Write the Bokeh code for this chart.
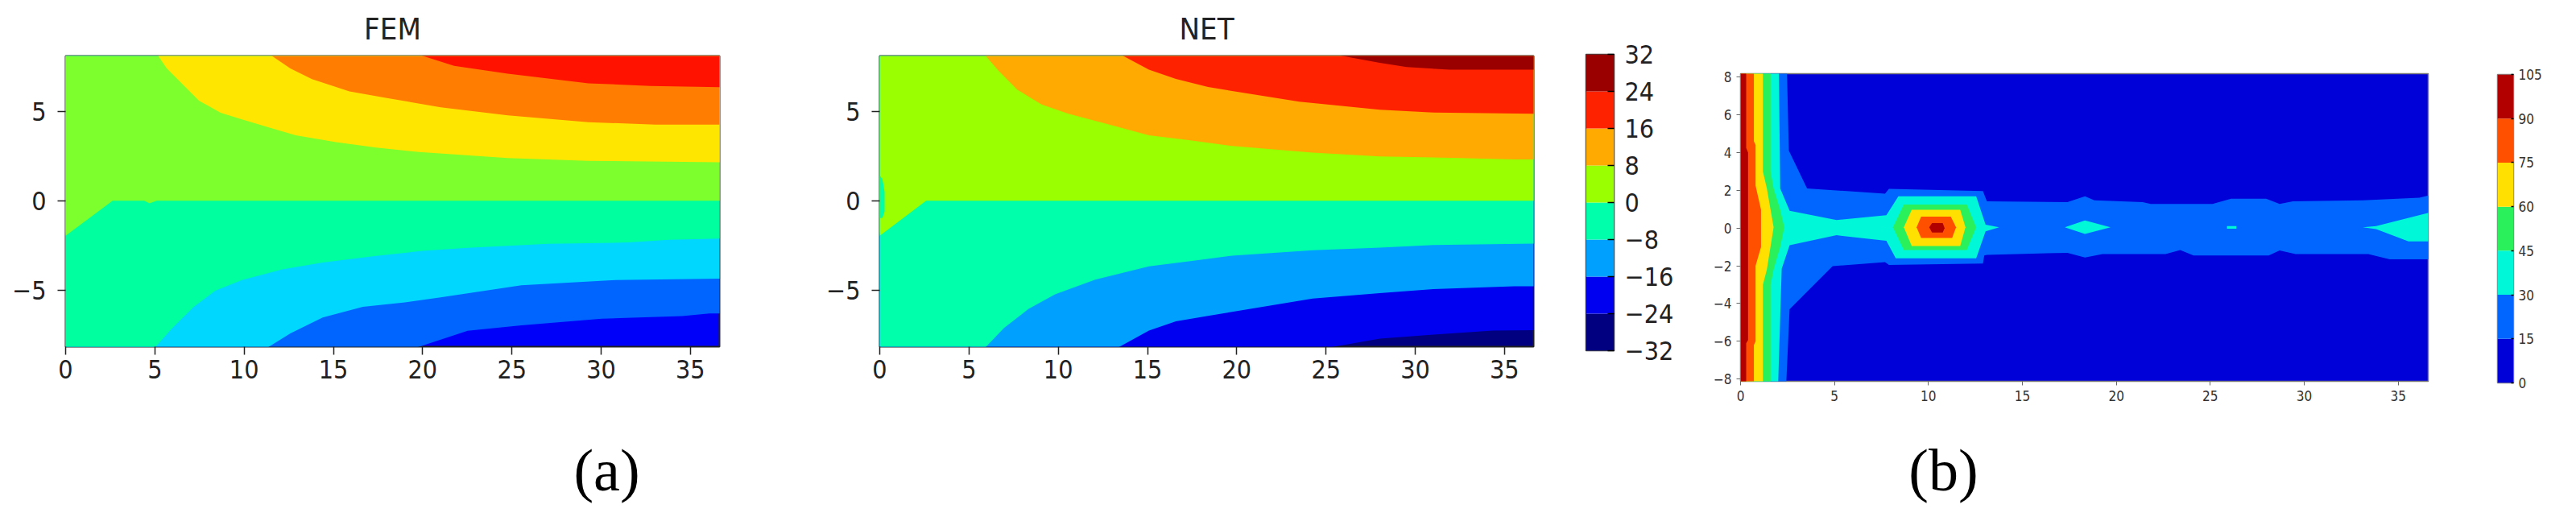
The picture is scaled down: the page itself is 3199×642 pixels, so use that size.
from bokeh.plotting import figure
from bokeh.layouts import row, column
from bokeh.models import ColumnDataSource, FixedTicker, Range1d, Title, Label
from bokeh.embed import file_html
from bokeh.resources import INLINE

# ---------------- data ----------------
# panel (a): contour lines (x, y) separating the filled bands, lowest level first
X_MIN, X_MAX = 0.0, 36.63
Y_BOT, Y_TOP = -8.15, 8.085
A_XTICKS = [0, 5, 10, 15, 20, 25, 30, 35]
A_YTICKS = [-5, 0, 5]

FEM_COLORS = ["#0000FA", "#0064FF", "#00D7FF", "#00FF9E", "#7DFF2D", "#FFE600", "#FF7D00", "#FF1200"]
FEM_CM24_X = [19.66, 22.52, 25.53, 30.04, 34.55, 36.06, 36.7]
FEM_CM24_Y = [-8.2, -7.26, -6.96, -6.59, -6.44, -6.29, -6.29]
FEM_CM16_X = [11.31, 12.59, 14.4, 16.65, 19.0, 21.01, 25.53, 30.79, 36.7]
FEM_CM16_Y = [-8.2, -7.41, -6.52, -5.92, -5.68, -5.39, -4.72, -4.43, -4.35]
FEM_CM8_X = [5.0, 5.97, 7.18, 8.38, 9.88, 12.14, 14.4, 17.4, 20.0, 22.52, 27.03, 31.54, 33.8, 36.7]
FEM_CM8_Y = [-8.2, -7.12, -5.92, -5.02, -4.43, -3.83, -3.45, -3.08, -2.8, -2.63, -2.41, -2.33, -2.18, -2.11]
FEM_C0_X = [0.0, 2.63, 4.4, 4.7, 5.1, 36.7]
FEM_C0_Y = [-1.96, 0.0, 0.0, -0.14, 0.0, 0.0]
FEM_C8_X = [5.11, 5.67, 6.57, 7.47, 8.68, 9.88, 11.39, 12.89, 15.15, 17.4, 19.81, 24.77, 29.29, 36.7]
FEM_C8_Y = [8.2, 7.39, 6.49, 5.59, 4.92, 4.54, 4.09, 3.65, 3.27, 2.97, 2.72, 2.38, 2.23, 2.15]
FEM_C16_X = [11.39, 12.59, 13.8, 15.9, 18.0, 21.01, 24.77, 29.29, 33.05, 36.7]
FEM_C16_Y = [8.2, 7.39, 6.79, 6.11, 5.74, 5.22, 4.77, 4.39, 4.25, 4.25]
FEM_C24_X = [19.66, 21.76, 24.77, 29.29, 32.75, 36.7]
FEM_C24_Y = [8.2, 7.53, 7.09, 6.56, 6.41, 6.34]

NET_COLORS = ["#000080", "#0000F0", "#00A0FF", "#00FFAA", "#9AFF00", "#FFAA00", "#FF2200", "#9B0000"]
NET_LEVELS = [-32, -24, -16, -8, 0, 8, 16, 24, 32]
NET_CM24_X = [25.16, 28.01, 31.02, 34.33, 36.7]
NET_CM24_Y = [-8.2, -7.7, -7.48, -7.25, -7.23]
NET_CM16_X = [13.35, 15.08, 16.59, 18.39, 19.74, 24.25, 28.01, 31.02, 35.53, 36.7]
NET_CM16_Y = [-8.2, -7.25, -6.73, -6.43, -6.21, -5.46, -5.16, -4.93, -4.78, -4.78]
NET_CM8_X = [5.91, 6.96, 8.32, 9.82, 12.07, 15.08, 17.49, 19.74, 24.25, 28.01, 31.02, 36.7]
NET_CM8_Y = [-8.2, -7.1, -6.05, -5.23, -4.41, -3.66, -3.36, -3.07, -2.77, -2.62, -2.47, -2.39]
NET_C0_X = [0.0, 2.6, 36.7]
NET_C0_Y = [-1.95, 0.0, 0.0]
NET_C8_X = [5.84, 6.66, 7.71, 9.07, 10.57, 12.83, 15.08, 17.49, 19.74, 24.25, 28.01, 32.52, 35.53, 36.7]
NET_C8_Y = [8.2, 7.25, 6.2, 5.38, 4.86, 4.26, 3.66, 3.36, 3.06, 2.69, 2.47, 2.39, 2.31, 2.31]
NET_C16_X = [13.43, 15.08, 16.59, 18.39, 19.74, 23.5, 28.01, 31.02, 36.7]
NET_C16_Y = [8.2, 7.32, 6.8, 6.35, 6.13, 5.53, 5.08, 4.93, 4.86]
NET_C24_X = [25.3, 28.01, 29.52, 31.92, 36.7]
NET_C24_Y = [8.2, 7.7, 7.47, 7.32, 7.32]
NET_POCKET_X = [0.0, 0.15, 0.27, 0.27, 0.15, 0.0]
NET_POCKET_Y = [1.42, 1.2, 0.5, -0.6, -0.97, -0.97]

# panel (b): regions at or above each level (polygons), levels 0..105 step 15
B_XMIN, B_XMAX = 0.0, 36.6
B_YBOT, B_YTOP = -8.12, 8.18
B_XTICKS = [0, 5, 10, 15, 20, 25, 30, 35]
B_YTICKS = [-8, -6, -4, -2, 0, 2, 4, 6, 8]
B_LEVELS = [0, 15, 30, 45, 60, 75, 90, 105]
B_COLORS = ["#0000D8", "#0066FF", "#00F8D8", "#2AF05C", "#FFE000", "#FF5000", "#B20000"]

B15_X = [0, 2.47, 2.57, 3.54, 3.83, 7.69, 7.9, 12.9, 13.11, 17.4, 18.33, 18.83, 21.4, 21.83, 25.12, 26.11,
         27.97, 28.69, 29.4, 33.12, 36.13, 36.7, 36.7, 34.55, 33.41, 29.54, 28.69, 28.11, 24.11, 23.4, 22.62,
         19.26, 18.33, 17.4, 13.11, 12.97, 12.9, 7.9, 7.69, 4.9, 2.61, 2.43, 0]
B15_Y = [8.3, 8.3, 4.1, 2.1, 2.08, 1.82, 2.08, 1.96, 1.42, 1.37, 1.68, 1.47, 1.37, 1.28, 1.28, 1.56,
         1.56, 1.28, 1.42, 1.47, 1.61, 1.75, -1.66, -1.66, -1.38, -1.38, -1.19, -1.45, -1.45, -1.17, -1.38,
         -1.38, -1.56, -1.31, -1.42, -1.45, -1.88, -1.95, -1.81, -2.02, -4.3, -8.3, -8.3]
B30_MAIN_X = [0, 2.04, 2.11, 2.61, 5.11, 7.76, 8.4, 12.54, 13.04, 13.76, 13.04, 12.54, 8.26, 7.76, 5.11, 2.61, 2.19, 2.0, 0]
B30_MAIN_Y = [8.3, 8.3, 2.1, 0.92, 0.43, 0.68, 1.68, 1.68, 0.18, 0.04, -0.17, -1.6, -1.6, -0.67, -0.38, -0.91, -2.16, -8.3, -8.3]
B30_DIAMOND_X = [17.26, 18.33, 19.69, 18.33]
B30_DIAMOND_Y = [0.04, 0.4, 0.04, -0.31]
B30_SPOT_X = [25.89, 26.39, 26.39, 25.89]
B30_SPOT_Y = [0.11, 0.11, -0.03, -0.03]
B30_TAIL_X = [33.12, 33.83, 36.7, 36.7, 35.55, 33.83]
B30_TAIL_Y = [0.04, 0.11, 0.83, -0.71, -0.71, -0.06]
B45_LEFT_X = [0, 1.6, 1.6, 1.76, 2.11, 2.33, 2.11, 1.76, 1.6, 1.6, 0]
B45_LEFT_Y = [8.3, 8.3, 3.0, 2.1, 0.97, 0.04, -1.0, -2.2, -3.0, -8.3, -8.3]
B45_HEX_X = [8.11, 8.69, 12.04, 12.54, 12.04, 8.69]
B45_HEX_Y = [0.04, 1.25, 1.25, 0.04, -1.17, -1.17]
B60_LEFT_X = [0, 1.19, 1.19, 1.4, 1.76, 1.4, 1.19, 1.19, 0]
B60_LEFT_Y = [8.3, 8.3, 3.0, 2.1, 0.04, -2.2, -3.0, -8.3, -8.3]
B60_HEX_X = [8.69, 9.11, 11.69, 11.97, 11.69, 9.11]
B60_HEX_Y = [0.04, 0.97, 0.97, 0.04, -0.95, -0.95]
B75_LEFT_X = [0, 0.71, 0.71, 0.8, 0.8, 1.09, 1.09, 0.8, 0.8, 0.71, 0.71, 0]
B75_LEFT_Y = [8.3, 8.3, 4.6, 4.4, 2.25, 0.97, -1.0, -2.0, -6.0, -6.2, -8.3, -8.3]
B75_HEX_X = [9.37, 9.61, 11.19, 11.47, 11.26, 9.61]
B75_HEX_Y = [0.04, 0.61, 0.61, 0.04, -0.53, -0.53]
B90_LEFT_X = [0, 0.3, 0.3, 0.4, 0.4, 0.3, 0.3, 0]
B90_LEFT_Y = [8.3, 8.3, 4.24, 4.0, -5.93, -6.1, -8.3, -8.3]
B90_HEX_X = [10.04, 10.19, 10.76, 10.86, 10.76, 10.19]
B90_HEX_Y = [0.04, 0.26, 0.26, 0.0, -0.24, -0.24]

CAPTIONS = ["(a)", "(b)"]

# ---------------- styling ----------------
SANS = "DejaVu Sans Condensed, DejaVu Sans"
SERIF = "Liberation Serif"
INK = "#222222"
TOP_H = 528      # height of the row of plots
CAP_H = 114      # height of the caption strip


def minus(v):
    return str(v).replace("-", "\u2212")


def above_polygon(cx, cy):
    """Region above a contour line, closed along the frame edges."""
    xs = list(cx) + [X_MAX + 1]
    ys = list(cy) + [Y_TOP + 1]
    if cy[0] < Y_TOP:          # line starts on left or bottom edge
        xs += [X_MIN - 1]
        ys += [Y_TOP + 1]
        if cx[0] > X_MIN:      # starts on the bottom edge
            xs += [X_MIN - 1]
            ys += [Y_BOT - 1]
    return xs, ys


def style_axes(p, xticks, yticks, size, color, tick_len, tick_w, standoff_x, standoff_y):
    for ax, ticks, so in ((p.xaxis, xticks, standoff_x), (p.yaxis, yticks, standoff_y)):
        ax.ticker = FixedTicker(ticks=ticks)
        ax.major_label_overrides = {t: minus(t) for t in ticks if t < 0}
        ax.major_label_text_font = SANS
        ax.major_label_text_font_size = size
        ax.major_label_text_color = color
        ax.major_tick_out = tick_len
        ax.major_tick_in = 0
        ax.major_tick_line_width = tick_w
        ax.major_tick_line_color = color
        ax.minor_tick_line_color = None
        ax.axis_line_color = None
        ax.major_label_standoff = so
    p.grid.visible = False


def panel_a(title, contours, colors, width, border_left, border_right, extra=None):
    p = figure(width=width, height=TOP_H, output_backend="svg", toolbar_location=None,
               x_range=Range1d(X_MIN, X_MAX), y_range=Range1d(Y_BOT, Y_TOP),
               min_border_left=border_left, min_border_right=border_right,
               min_border_top=68, min_border_bottom=TOP_H - 68 - 362, frame_align=False)
    p.background_fill_color = colors[0]
    p.border_fill_color = "white"
    p.outline_line_color = INK
    p.outline_line_width = 2
    xs, ys, cs = [], [], []
    for (cx, cy), c in zip(contours, colors[1:]):
        px, py = above_polygon(cx, cy)
        xs.append(px)
        ys.append(py)
        cs.append(c)
    if extra is not None:
        for ex, ey, c in extra:
            xs.append(ex)
            ys.append(ey)
            cs.append(c)
    p.patches(xs="xs", ys="ys", fill_color="c", line_color=None,
              source=ColumnDataSource(dict(xs=xs, ys=ys, c=cs)))
    style_axes(p, A_XTICKS, A_YTICKS, "32px", INK, 10, 1.5, 6, 14)
    p.add_layout(Title(text=title, align="center", standoff=23, text_font=SANS,
                       text_font_size="38px", text_font_style="normal", text_color=INK), "above")
    return p


fem = panel_a("FEM",
              [(FEM_CM24_X, FEM_CM24_Y), (FEM_CM16_X, FEM_CM16_Y), (FEM_CM8_X, FEM_CM8_Y),
               (FEM_C0_X, FEM_C0_Y), (FEM_C8_X, FEM_C8_Y), (FEM_C16_X, FEM_C16_Y),
               (FEM_C24_X, FEM_C24_Y)],
              FEM_COLORS, 1000, 81, 107)

net = panel_a("NET",
              [(NET_CM24_X, NET_CM24_Y), (NET_CM16_X, NET_CM16_Y), (NET_CM8_X, NET_CM8_Y),
               (NET_C0_X, NET_C0_Y), (NET_C8_X, NET_C8_Y), (NET_C16_X, NET_C16_Y),
               (NET_C24_X, NET_C24_Y)],
              NET_COLORS, 950, 92, 46,
              extra=[(NET_POCKET_X, NET_POCKET_Y, NET_COLORS[3])])


def colorbar(levels, colors, width, bl, br, bt, frame_h, size, color, standoff, tick_in, outline):
    c = figure(width=width, height=TOP_H, output_backend="svg", toolbar_location=None,
               x_range=Range1d(0, 1), y_range=Range1d(levels[0], levels[-1]),
               x_axis_location=None, y_axis_location="right",
               min_border_left=bl, min_border_right=br, min_border_top=bt,
               min_border_bottom=TOP_H - bt - frame_h, frame_align=False)
    c.quad(left=0, right=1, bottom="b", top="t", fill_color="c", line_color=None,
           source=ColumnDataSource(dict(b=levels[:-1], t=levels[1:], c=colors)))
    c.grid.visible = False
    c.outline_line_color = outline
    c.outline_line_width = 1.5
    ax = c.yaxis
    ax.ticker = FixedTicker(ticks=levels)
    ax.major_label_overrides = {t: minus(t) for t in levels if t < 0}
    ax.major_label_text_font = SANS
    ax.major_label_text_font_size = size
    ax.major_label_text_color = color
    ax.major_tick_in = tick_in
    ax.major_tick_out = 0
    ax.major_tick_line_color = "black"
    ax.major_tick_line_width = 1.5
    ax.minor_tick_line_color = None
    ax.axis_line_color = None
    ax.major_label_standoff = standoff
    return c


net_cb = colorbar(NET_LEVELS, NET_COLORS, 150, 19, 96, 67, 368, "32px", INK, 13, 8, "#444444")

# ---------------- panel (b) ----------------
pb = figure(width=960, height=TOP_H, output_backend="svg", toolbar_location=None,
            x_range=Range1d(B_XMIN, B_XMAX), y_range=Range1d(B_YBOT, B_YTOP),
            min_border_left=61, min_border_right=45, min_border_top=91,
            min_border_bottom=TOP_H - 91 - 382, frame_align=False)
pb.background_fill_color = B_COLORS[0]
pb.outline_line_color = "#777777"
pb.outline_line_width = 1.5
b_polys = [
    (B15_X, B15_Y, B_COLORS[1]),
    (B30_MAIN_X, B30_MAIN_Y, B_COLORS[2]),
    (B30_DIAMOND_X, B30_DIAMOND_Y, B_COLORS[2]),
    (B30_SPOT_X, B30_SPOT_Y, B_COLORS[2]),
    (B30_TAIL_X, B30_TAIL_Y, B_COLORS[2]),
    (B45_LEFT_X, B45_LEFT_Y, B_COLORS[3]),
    (B45_HEX_X, B45_HEX_Y, B_COLORS[3]),
    (B60_LEFT_X, B60_LEFT_Y, B_COLORS[4]),
    (B60_HEX_X, B60_HEX_Y, B_COLORS[4]),
    (B75_LEFT_X, B75_LEFT_Y, B_COLORS[5]),
    (B75_HEX_X, B75_HEX_Y, B_COLORS[5]),
    (B90_LEFT_X, B90_LEFT_Y, B_COLORS[6]),
    (B90_HEX_X, B90_HEX_Y, B_COLORS[6]),
]
pb.patches(xs="xs", ys="ys", fill_color="c", line_color=None,
           source=ColumnDataSource(dict(xs=[t[0] for t in b_polys], ys=[t[1] for t in b_polys],
                                        c=[t[2] for t in b_polys])))
style_axes(pb, B_XTICKS, B_YTICKS, "17px", "#333333", 5, 1, 6, 6)
pb.xaxis.major_tick_line_color = "#666666"
pb.yaxis.major_tick_line_color = "#666666"

b_cb = colorbar(B_LEVELS, B_COLORS, 131, 41, 70, 92, 383, "17px", "#333333", 6, 3, "#888888")

# ---------------- caption strip with (a) and (b) ----------------
cap = figure(width=3191, height=CAP_H, output_backend="svg", toolbar_location=None,
             x_range=Range1d(0, 3191), y_range=Range1d(0, CAP_H),
             x_axis_location=None, y_axis_location=None,
             min_border_left=0, min_border_right=0, min_border_top=0, min_border_bottom=0,
             frame_align=False)
cap.outline_line_color = None
cap.grid.visible = False
for text, cx in zip(CAPTIONS, [753, 2413]):
    cap.add_layout(Label(x=cx, y=59, x_units="screen", y_units="screen", text=text,
                         text_font=SERIF, text_font_size="74px", text_color="black",
                         text_align="center", text_baseline="middle"))

layout = column(row(fem, net, net_cb, pb, b_cb), cap)
open("out.html", "w").write(file_html(layout, INLINE))
